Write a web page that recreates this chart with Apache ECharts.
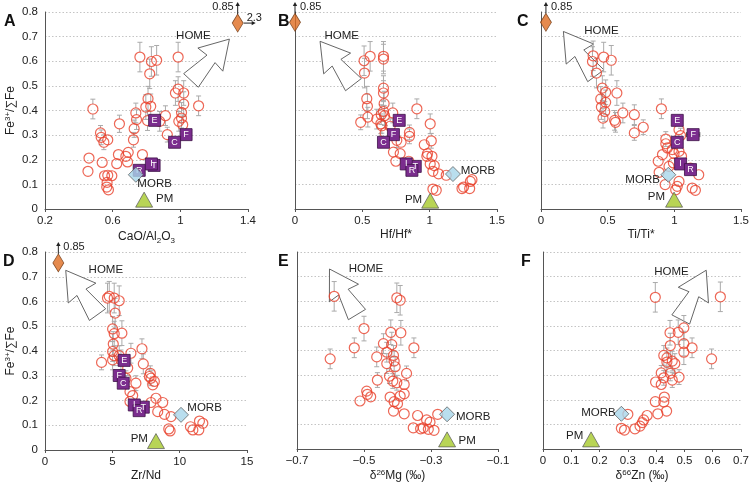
<!DOCTYPE html>
<html><head><meta charset="utf-8">
<script src="https://cdn.jsdelivr.net/npm/echarts@6/dist/echarts.min.js"></script>
<style>html,body{margin:0;padding:0;background:#fff}#c{width:752px;height:483px}</style>
</head><body><div id="c"></div>
<script>
// ---- data: [x, Fe3+/ΣFe, error] ----
const ptsA = [[0.483,0.406,0.04],[0.46,0.207,0.02],[0.454,0.153,0],[0.528,0.309,0.03],[0.532,0.291,0.03],[0.548,0.271,0.03],[0.571,0.281,0.02],[0.538,0.189,0],[0.552,0.135,0],[0.571,0.137,0.02],[0.567,0.108,0],[0.565,0.089,0],[0.575,0.078,0],[0.595,0.135,0],[0.624,0.184,0.02],[0.634,0.221,0.02],[0.64,0.346,0.035],[0.678,0.214,0.02],[0.688,0.191,0.02],[0.692,0.23,0.02],[0.727,0.326,0.035],[0.723,0.281,0.03],[0.737,0.39,0.04],[0.741,0.363,0.04],[0.776,0.221,0.015],[0.761,0.617,0.06],[0.796,0.414,0.05],[0.809,0.448,0.05],[0.806,0.359,0.04],[0.829,0.599,0.06],[0.86,0.604,0.06],[0.819,0.549,0.06],[0.825,0.417,0.05],[0.878,0.356,0.04],[0.912,0.379,0.04],[0.923,0.302,0.03],[0.971,0.471,0.05],[0.987,0.617,0.06],[0.987,0.487,0.05],[0.991,0.356,0.04],[1.007,0.392,0.04],[1.007,0.369,0.04],[1.014,0.342,0.04],[1.02,0.471,0.05],[1.02,0.426,0.05],[1.108,0.419,0.04]];
const ptsB = [[0.513,0.602,0.06],[0.558,0.62,0.06],[0.657,0.62,0.06],[0.657,0.609,0.06],[0.516,0.552,0.06],[0.533,0.448,0.05],[0.538,0.417,0.05],[0.541,0.373,0.04],[0.488,0.352,0.03],[0.607,0.365,0.04],[0.64,0.383,0.04],[0.637,0.346,0.04],[0.657,0.491,0.05],[0.657,0.471,0.05],[0.662,0.428,0.05],[0.657,0.396,0.04],[0.665,0.379,0.04],[0.645,0.338,0.03],[0.669,0.309,0.03],[0.726,0.39,0.04],[0.707,0.336,0.03],[0.756,0.279,0.03],[0.788,0.271,0.02],[0.731,0.231,0.02],[0.749,0.194,0.02],[0.781,0.225,0.02],[0.85,0.311,0.03],[0.85,0.295,0.03],[0.905,0.407,0.04],[0.845,0.194,0.02],[1.004,0.346,0.04],[1.012,0.277,0.03],[0.96,0.261,0.02],[0.984,0.225,0.02],[0.979,0.214,0],[1.017,0.214,0.02],[1.004,0.183,0],[1.024,0.153,0],[1.034,0.176,0],[1.066,0.143,0],[1.123,0.137,0],[1.024,0.081,0],[1.049,0.076,0],[1.252,0.089,0],[1.302,0.112,0],[1.314,0.119,0],[1.297,0.083,0],[1.24,0.083,0]];
const ptsC = [[0.391,0.622,0.06],[0.386,0.599,0.06],[0.47,0.617,0.06],[0.527,0.604,0.06],[0.416,0.552,0.06],[0.46,0.491,0.05],[0.485,0.474,0.05],[0.448,0.447,0.05],[0.485,0.433,0.05],[0.453,0.414,0.05],[0.478,0.396,0.04],[0.465,0.369,0.04],[0.569,0.471,0.05],[0.552,0.36,0.04],[0.559,0.352,0.04],[0.614,0.39,0.04],[0.7,0.383,0.04],[0.7,0.309,0.03],[0.767,0.332,0.03],[0.903,0.407,0.04],[0.936,0.284,0.03],[0.936,0.265,0.02],[0.948,0.248,0.02],[0.911,0.221,0.02],[0.879,0.194,0.02],[0.886,0.149,0],[0.931,0.099,0],[0.998,0.225,0.02],[0.993,0.187,0],[1.035,0.234,0.02],[1.054,0.214,0],[1.035,0.322,0.03],[1.047,0.298,0.03],[1.01,0.078,0],[1.035,0.112,0],[1.022,0.092,0],[1.121,0.166,0],[1.183,0.139,0],[1.134,0.085,0],[1.158,0.076,0],[0.96,0.173,0],[0.985,0.241,0]];
const ptsD = [[4.64,0.614,0.06],[4.77,0.621,0.06],[5.14,0.614,0.06],[5.51,0.603,0.06],[5.21,0.553,0.06],[5.02,0.489,0.05],[5.14,0.47,0.05],[5.71,0.472,0.05],[5.07,0.428,0.05],[5.02,0.398,0.04],[5.14,0.381,0.04],[5.51,0.381,0.04],[4.2,0.354,0.03],[5.02,0.364,0.04],[5.64,0.364,0.04],[6.38,0.391,0.04],[7.2,0.409,0.04],[7.3,0.348,0.04],[6.14,0.331,0.03],[6.01,0.29,0.03],[6.75,0.27,0.03],[6.31,0.236,0.02],[6.51,0.22,0.02],[6.31,0.196,0.02],[7.82,0.31,0.03],[7.87,0.29,0.03],[8.12,0.277,0.02],[8.0,0.263,0.02],[7.75,0.297,0.03],[8.24,0.209,0.02],[7.87,0.192,0.02],[8.74,0.192,0],[8.37,0.155,0],[8.87,0.144,0],[9.36,0.135,0],[9.19,0.085,0],[9.29,0.077,0],[10.8,0.094,0],[10.98,0.081,0],[11.42,0.081,0],[11.47,0.117,0],[11.72,0.108,0]];
const ptsE = [[-0.589,0.62,0.06],[-0.601,0.366,0.04],[-0.529,0.411,0.04],[-0.5,0.489,0.05],[-0.512,0.195,0],[-0.492,0.235,0.02],[-0.49,0.222,0.02],[-0.48,0.212,0],[-0.462,0.374,0.04],[-0.46,0.28,0.03],[-0.442,0.428,0.04],[-0.432,0.393,0.04],[-0.432,0.347,0.04],[-0.42,0.474,0.05],[-0.417,0.424,0.05],[-0.424,0.296,0.03],[-0.422,0.211,0.02],[-0.412,0.38,0.04],[-0.41,0.357,0.04],[-0.407,0.334,0.04],[-0.414,0.276,0.03],[-0.41,0.192,0.02],[-0.4,0.184,0.02],[-0.402,0.614,0.06],[-0.392,0.604,0.06],[-0.39,0.472,0.05],[-0.402,0.269,0.03],[-0.392,0.215,0.02],[-0.412,0.154,0],[-0.38,0.262,0.02],[-0.38,0.224,0.02],[-0.373,0.307,0.03],[-0.38,0.143,0],[-0.351,0.411,0.04],[-0.34,0.136,0],[-0.353,0.086,0],[-0.331,0.082,0],[-0.323,0.086,0],[-0.313,0.118,0],[-0.303,0.109,0],[-0.308,0.08,0],[-0.291,0.076,0],[-0.28,0.141,0]];
const ptsF = [[0.397,0.616,0.06],[0.627,0.618,0.06],[0.449,0.472,0.05],[0.478,0.474,0.05],[0.498,0.492,0.05],[0.45,0.42,0.05],[0.498,0.428,0.05],[0.527,0.411,0.04],[0.498,0.393,0.05],[0.596,0.366,0.04],[0.427,0.38,0.04],[0.438,0.37,0.04],[0.457,0.357,0.04],[0.438,0.353,0.04],[0.466,0.347,0.04],[0.418,0.309,0.03],[0.427,0.289,0.03],[0.398,0.272,0.02],[0.418,0.262,0.02],[0.45,0.307,0.03],[0.457,0.28,0.03],[0.481,0.292,0.03],[0.429,0.211,0.02],[0.427,0.191,0.02],[0.397,0.192,0],[0.406,0.143,0],[0.437,0.154,0],[0.368,0.136,0],[0.356,0.118,0],[0.351,0.107,0],[0.343,0.093,0],[0.325,0.082,0],[0.3,0.141,0],[0.277,0.084,0],[0.288,0.077,0]];

// lettered samples [label, x, y]
const sqA = [['E',0.848,0.36],['F',1.034,0.302],['C',0.966,0.271],['T',0.845,0.177],['I',0.829,0.183],['R',0.757,0.157]];
const sqB = [['E',0.774,0.36],['F',0.731,0.302],['C',0.657,0.271],['T',0.893,0.173],['I',0.826,0.183],['R',0.868,0.157]];
const sqC = [['E',1.022,0.36],['F',1.141,0.302],['C',1.022,0.271],['I',1.047,0.183],['R',1.121,0.16]];
const sqD = [['E',5.88,0.362],['F',5.51,0.301],['C',5.81,0.27],['T',7.3,0.173],['I',6.63,0.182],['R',6.99,0.159]];
const sqXErrC = [[1.022,0.36,0.03],[1.141,0.302,0.05]];

// reference compositions [x, y]
const morbA=[0.737,0.139], morbB=[1.173,0.142], morbC=[0.955,0.139], morbD=[10.1,0.142], morbE=[-0.252,0.141], morbF=[0.277,0.143];
const pmA=[0.786,0.038], pmB=[1.004,0.034], pmC=[0.998,0.038], pmD=[8.24,0.036], pmE=[-0.252,0.039], pmF=[0.17,0.039];
const homeA=[1.339,0.755], homeB=[0,0.758], homeC=[0.037,0.758], homeD=[0.99,0.756];
// HOME trend arrows [tailX, tailY, tipX, tipY]
const arrowA=[1.063,0.522,1.29,0.69], arrowB=[0.434,0.505,0.186,0.681], arrowC=[0.411,0.541,0.168,0.721], arrowD=[3.9,0.547,1.54,0.726], arrowE=[-0.521,0.546,-0.603,0.731], arrowF=[0.487,0.526,0.577,0.726];
// annotation texts [x, y, text]
const textsA=[[1.077,0.704,'HOME'],[0.848,0.103,'MORB'],[0.907,0.041,'PM']];
const textsB=[[0.347,0.704,'HOME'],[1.359,0.153,'MORB'],[0.88,0.038,'PM']];
const textsC=[[0.453,0.725,'HOME'],[0.762,0.119,'MORB'],[0.866,0.049,'PM']];
const textsD=[[4.52,0.729,'HOME'],[11.85,0.169,'MORB'],[7.0,0.047,'PM']];
const textsE=[[-0.494,0.731,'HOME'],[-0.174,0.131,'MORB'],[-0.192,0.032,'PM']];
const textsF=[[0.454,0.718,'HOME'],[0.196,0.145,'MORB'],[0.112,0.055,'PM']];

const FONT = 'Liberation Sans, Arial, sans-serif';
const panels = [
 {L:'A', grid:{left:45,top:12,width:203,height:197}, x:{min:0.2,max:1.4,interval:0.4,name:'{a|CaO/Al}{s|2}{a|O}{s|3}'}, pts:ptsA, sq:sqA, morb:morbA, pm:pmA, home:homeA, arrow:arrowA, texts:textsA, showY:true, lpos:[4,14], upSide:'left', right23:true},
 {L:'B', grid:{left:295,top:12,width:202,height:197}, x:{min:0,max:1.5,interval:0.5,name:'Hf/Hf*'}, pts:ptsB, sq:sqB, morb:morbB, pm:pmB, home:homeB, arrow:arrowB, texts:textsB, lpos:[278,14], upSide:'right'},
 {L:'C', grid:{left:541,top:12,width:202,height:197}, x:{min:0,max:1.5,interval:0.5,name:'Ti/Ti*'}, pts:ptsC, sq:sqC, morb:morbC, pm:pmC, home:homeC, arrow:arrowC, texts:textsC, lpos:[517,14], upSide:'right'},
 {L:'D', grid:{left:45,top:252,width:202,height:198}, x:{min:0,max:15,interval:5,name:'Zr/Nd'}, pts:ptsD, sq:sqD, morb:morbD, pm:pmD, home:homeD, arrow:arrowD, texts:textsD, showY:true, lpos:[3,254], upSide:'right'},
 {L:'E', grid:{left:297,top:252,width:201,height:198}, x:{min:-0.7,max:-0.1,interval:0.2,name:'{a|δ}{u|26}{a|Mg (‰)}'}, pts:ptsE, sq:[], morb:morbE, pm:pmE, home:null, arrow:arrowE, texts:textsE, lpos:[278,254]},
 {L:'F', grid:{left:543,top:252,width:202,height:198}, x:{min:0,max:0.7,interval:0.1,name:'{a|δ}{u|66}{a|Zn (‰)}'}, pts:ptsF, sq:[], morb:morbF, pm:pmF, home:null, arrow:arrowF, texts:textsF, lpos:[521,254]}
];

const chart = echarts.init(document.getElementById('c'), null, {renderer:'canvas'});
const grid=[], xAxis=[], yAxis=[], series=[], graphic=[];
const rich = {a:{fontFamily:FONT,fontSize:12,color:'#222'}, s:{fontFamily:FONT,fontSize:8,color:'#222',verticalAlign:'bottom',padding:[8,0,0,0]}, u:{fontFamily:FONT,fontSize:8,color:'#222',padding:[0,0,6,0]}};

panels.forEach((p,i)=>{
  grid.push(p.grid);
  xAxis.push({gridIndex:i,type:'value',min:p.x.min,max:p.x.max,interval:p.x.interval,
    name:p.x.name,nameLocation:'middle',nameGap:20,nameTextStyle:{rich:rich,fontFamily:FONT,fontSize:12,color:'#222'},
    axisLine:{show:true,onZero:false,lineStyle:{color:'#555',width:1}},
    axisTick:{show:true,length:3,lineStyle:{color:'#555'}},
    axisLabel:{fontFamily:FONT,fontSize:11.5,color:'#222',margin:6,formatter:v=>String(+v.toFixed(2)).replace('-','\u2212')},
    splitLine:{show:false}});
  yAxis.push({gridIndex:i,type:'value',min:0,max:0.8,interval:0.1,
    name:p.showY?'{a|Fe}{u|3+}{a|/∑Fe}':'',nameLocation:'middle',nameGap:27,nameRotate:90,nameTextStyle:{rich:rich},
    axisLine:{show:true,onZero:false,lineStyle:{color:'#555',width:1}},
    axisTick:{show:false},
    axisLabel:{show:!!p.showY,fontFamily:FONT,fontSize:11.5,color:'#222',margin:7,formatter:v=>String(+v.toFixed(2))},
    splitLine:{show:true,lineStyle:{color:'#c4c4c4',type:[1.5,2],width:1}}});

  // HOME arrow (tapered outline arrow)
  series.push({type:'custom',xAxisIndex:i,yAxisIndex:i,clip:false,z:2,data:[p.arrow],
    renderItem:(params,api)=>{
      const a=api.coord([api.value(0),api.value(1)]), b=api.coord([api.value(2),api.value(3)]);
      const dx=b[0]-a[0], dy=b[1]-a[1], Ln=Math.hypot(dx,dy), ux=dx/Ln, uy=dy/Ln, nx=-uy, ny=ux;
      const P=(back,side)=>[b[0]-ux*back+nx*side, b[1]-uy*back+ny*side];
      const pts=[P(Ln,10),P(27,5.5),P(28,17),[b[0],b[1]],P(28,-17),P(27,-5.5),P(Ln,-10)];
      return {type:'polygon',shape:{points:pts},style:{fill:'#fff',stroke:'#555',lineWidth:0.9}};
    }});
  // error bars
  series.push({type:'custom',xAxisIndex:i,yAxisIndex:i,clip:false,z:3,data:p.pts.filter(d=>d[2]>0),
    renderItem:(params,api)=>{
      const x=api.value(0), y=api.value(1), e=api.value(2);
      const c=api.coord([x,y]), t=api.coord([x,y+e]), b=api.coord([x,y-e]), r=5, cw=2.5;
      const ch=[];
      const st={stroke:'#aaaaaa',lineWidth:1};
      if(t[1]<c[1]-r){ch.push({type:'line',shape:{x1:c[0],y1:c[1]-r,x2:t[0],y2:t[1]},style:st});ch.push({type:'line',shape:{x1:t[0]-cw,y1:t[1],x2:t[0]+cw,y2:t[1]},style:st});}
      if(b[1]>c[1]+r){ch.push({type:'line',shape:{x1:c[0],y1:c[1]+r,x2:b[0],y2:b[1]},style:st});ch.push({type:'line',shape:{x1:b[0]-cw,y1:b[1],x2:b[0]+cw,y2:b[1]},style:st});}
      return {type:'group',children:ch};
    }});
  // samples
  series.push({type:'scatter',xAxisIndex:i,yAxisIndex:i,z:4,symbol:'circle',symbolSize:10,
    itemStyle:{color:'rgba(255,255,255,0)',borderColor:'#e8412c',borderWidth:1.2},
    data:p.pts.map(d=>[d[0],d[1]])});
  // horizontal error bars for lettered samples (panel C)
  if(p.L==='C'){
    series.push({type:'custom',xAxisIndex:i,yAxisIndex:i,clip:false,z:5,data:sqXErrC,
      renderItem:(params,api)=>{
        const x=api.value(0), y=api.value(1), e=api.value(2);
        const l=api.coord([x-e,y]), r=api.coord([x+e,y]);
        const st={stroke:'#555',lineWidth:1};
        return {type:'group',children:[
          {type:'line',shape:{x1:l[0],y1:l[1],x2:r[0],y2:r[1]},style:st},
          {type:'line',shape:{x1:l[0],y1:l[1]-2.5,x2:l[0],y2:l[1]+2.5},style:st},
          {type:'line',shape:{x1:r[0],y1:r[1]-2.5,x2:r[0],y2:r[1]+2.5},style:st}]};
      }});
  }
  // lettered squares
  if(p.sq.length){
    series.push({type:'scatter',xAxisIndex:i,yAxisIndex:i,z:6,symbol:'rect',symbolSize:12,
      itemStyle:{color:'#7b2d8e',borderColor:'#3d1247',borderWidth:0.8,opacity:1},
      label:{show:true,position:'inside',formatter:'{b}',color:'#fff',fontFamily:FONT,fontSize:9},
      data:p.sq.map(s=>({name:s[0],value:[s[1],s[2]]}))});
  }
  // MORB, PM, HOME
  series.push({type:'scatter',xAxisIndex:i,yAxisIndex:i,z:7,symbol:'diamond',symbolSize:15,
    itemStyle:{color:'#a8d6ea',borderColor:'#555',borderWidth:0.9},data:[p.morb]});
  series.push({type:'scatter',xAxisIndex:i,yAxisIndex:i,z:7,symbol:'triangle',symbolSize:[17,15],
    itemStyle:{color:'#a6c92a',borderColor:'#555',borderWidth:0.9},data:[p.pm]});
  if(p.home){
    series.push({type:'scatter',xAxisIndex:i,yAxisIndex:i,z:7,symbol:'diamond',symbolSize:[11,18],clip:false,
      itemStyle:{color:'#df6d22',borderColor:'#6a3510',borderWidth:0.8},data:[p.home]});
    const side=p.upSide, r23=p.right23;
    series.push({type:'custom',xAxisIndex:i,yAxisIndex:i,clip:false,z:8,data:[p.home],
      renderItem:(params,api)=>{
        const c=api.coord([api.value(0),api.value(1)]);
        const top=api.coord([api.value(0),0.8])[1]-10;
        const st={stroke:'#222',lineWidth:1};
        const ch=[
          {type:'line',shape:{x1:c[0],y1:c[1]-9,x2:c[0],y2:top+3},style:st},
          {type:'polygon',shape:{points:[[c[0],top],[c[0]-2.2,top+4],[c[0]+2.2,top+4]]},style:{fill:'#222'}},
          {type:'text',x:side==='left'?c[0]-4:c[0]+5,y:top+5,style:{text:'0.85',fill:'#222',font:'11px '+FONT,align:side==='left'?'right':'left',verticalAlign:'middle'}}
        ];
        if(r23){
          ch.push({type:'line',shape:{x1:c[0]+6,y1:c[1],x2:c[0]+15,y2:c[1]},style:st});
          ch.push({type:'polygon',shape:{points:[[c[0]+18,c[1]],[c[0]+14,c[1]-2.2],[c[0]+14,c[1]+2.2]]},style:{fill:'#222'}});
          ch.push({type:'text',x:c[0]+9,y:c[1]-5,style:{text:'2.3',fill:'#222',font:'11px '+FONT,align:'left',verticalAlign:'middle'}});
        }
        return {type:'group',children:ch};
      }});
  }
  // annotation texts
  const tx=p.texts;
  series.push({type:'custom',xAxisIndex:i,yAxisIndex:i,clip:false,z:9,data:tx.map(t=>[t[0],t[1]]),
    renderItem:(params,api)=>{
      const c=api.coord([api.value(0),api.value(1)]);
      return {type:'text',x:c[0],y:c[1],style:{text:tx[params.dataIndex][2],fill:'#222',font:'11.5px '+FONT,align:'center',verticalAlign:'middle'}};
    }});
  graphic.push({type:'text',left:p.lpos[0],top:p.lpos[1],style:{text:p.L,font:'bold 16px '+FONT,fill:'#111'}});
});

chart.setOption({animation:false,backgroundColor:'#fff',grid,xAxis,yAxis,series,graphic});
</script></body></html>
